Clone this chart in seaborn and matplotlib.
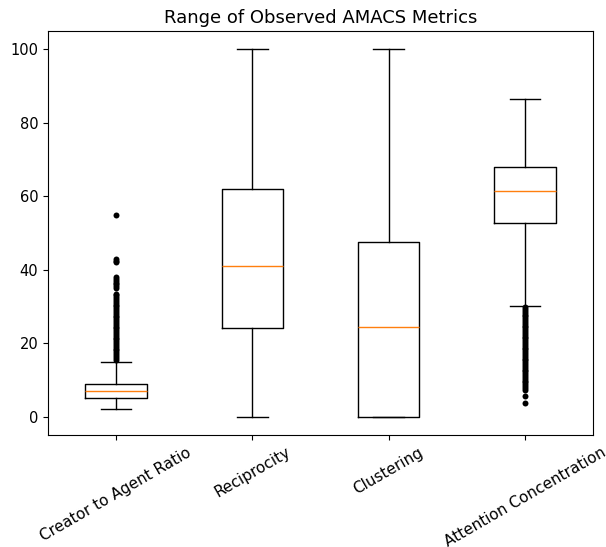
import matplotlib
matplotlib.use('Agg')
import matplotlib.pyplot as plt
import pandas as pd
import seaborn as sns

# Metric names in plot order
metrics = ['Creator to Agent Ratio', 'Reciprocity', 'Clustering', 'Attention Concentration']

# Box summary values
medians = [7.0, 41.0, 24.3, 61.3]
q1_vals = [5.0, 24.0, 0.0, 52.8]
q3_vals = [9.0, 62.0, 47.6, 68.0]
whisker_low = [2.0, 0.0, 0.0, 30.2]
whisker_high = [15.0, 100.0, 100.0, 86.4]

# Outlier points (dense columns approximated point by point)
creator_fliers = [15.5, 16, 16.5, 17, 17.5, 18, 18.5, 19, 19.5, 20, 20.5, 21, 21.5, 22,
                  22.5, 23, 23.5, 24, 24.5, 25, 25.5, 26, 26.5, 27, 27.5, 28, 28.5, 29,
                  29.5, 30, 30.5, 31, 31.5, 32, 32.5, 33, 33.5, 35, 35.5, 36, 36.5, 37,
                  37.5, 38, 42, 42.5, 43, 55]
attention_fliers = [29.8, 29.3, 28.8, 28.3, 27.8, 27.3, 26.8, 26.3, 25.8, 25.3, 24.8, 24.3,
                    23.8, 23.3, 22.8, 22.3, 21.8, 21.3, 20.8, 20.3, 19.8, 19.3, 18.8, 18.3,
                    17.8, 17.3, 16.8, 16.3, 15.8, 15.3, 14.8, 14.3, 13.8, 13.3, 12.8, 12.3,
                    11.8, 11.3, 10.8, 10.3, 9.8, 9.3, 8.8, 8.3, 7.8, 7.3, 5.7, 3.6]

fliers_df = pd.DataFrame({
    'metric': [metrics[0]] * len(creator_fliers) + [metrics[3]] * len(attention_fliers),
    'value': creator_fliers + attention_fliers,
})

stats = [
    {'med': m, 'q1': a, 'q3': b, 'whislo': lo, 'whishi': hi, 'fliers': []}
    for m, a, b, lo, hi in zip(medians, q1_vals, q3_vals, whisker_low, whisker_high)
]

fig = plt.figure(figsize=(6.06, 5.47), dpi=100)
ax = fig.add_axes([0.0792, 0.2048, 0.8993, 0.7386])

sns.stripplot(data=fliers_df, x='metric', y='value', order=metrics, jitter=False,
              color='black', size=4.3, linewidth=0, ax=ax, zorder=3)

ax.bxp(stats, positions=range(len(metrics)), widths=0.45, showfliers=False,
       boxprops={'color': 'black', 'linewidth': 1.0},
       whiskerprops={'color': 'black', 'linewidth': 1.0},
       capprops={'color': 'black', 'linewidth': 1.0},
       medianprops={'color': '#ff7f0e', 'linewidth': 1.0},
       manage_ticks=False)

ax.set_xticks(range(len(metrics)))
ax.set_xticklabels(metrics, rotation=30, fontsize=11)
ax.set_xlim(-0.5, len(metrics) - 0.5)
ax.set_ylim(-5, 105)
ax.set_yticks([0, 20, 40, 60, 80, 100])
ax.tick_params(axis='y', labelsize=10.5)
ax.set_xlabel('')
ax.set_ylabel('')
for side in ['top', 'right', 'left', 'bottom']:
    ax.spines[side].set_visible(True)
    ax.spines[side].set_color('black')
ax.set_title('Range of Observed AMACS Metrics', fontsize=13)

fig.savefig('out.png', dpi=100)
plt.close(fig)
